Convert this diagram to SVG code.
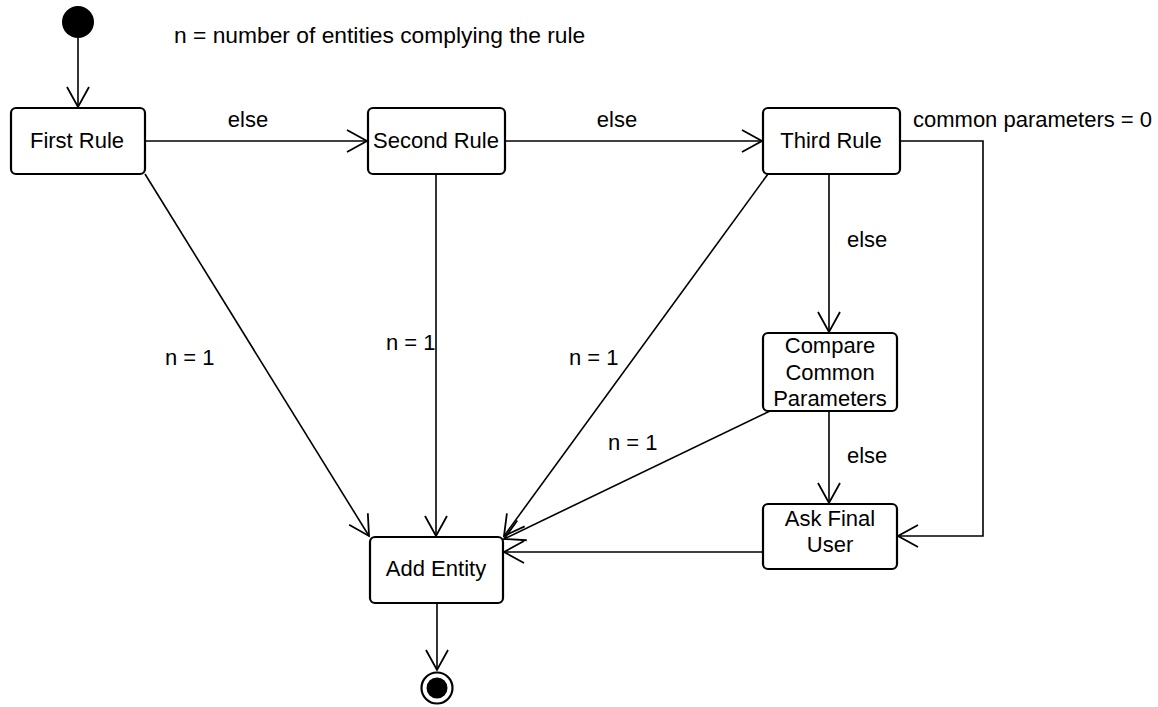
<svg xmlns="http://www.w3.org/2000/svg" width="1158" height="707" viewBox="0 0 1158 707">
<style>
.box{fill:#fff;stroke:#000;stroke-width:2.2}
.c{fill:none;stroke:#000;stroke-width:1.6}
text{font-family:"Liberation Sans",Arial,sans-serif;font-size:22px;fill:#000}
.m{text-anchor:middle}
</style>
<defs>
<marker id="arr" markerUnits="userSpaceOnUse" markerWidth="24" markerHeight="24" refX="20" refY="11" orient="auto" overflow="visible">
<path d="M0,0 L20,11 L0,22" fill="none" stroke="#000" stroke-width="1.8"/>
</marker>
</defs>
<rect width="1158" height="707" fill="#fff"/>
<text x="174" y="43" style="font-size:22.8px">n = number of entities complying the rule</text>
<g id="connectors">
<line class="c" x1="78" y1="38" x2="78" y2="107" marker-end="url(#arr)"/>
<line class="c" x1="145" y1="141" x2="367" y2="141" marker-end="url(#arr)"/>
<line class="c" x1="505" y1="141" x2="762" y2="141" marker-end="url(#arr)"/>
<polyline class="c" points="900,141 983,141 983,536 898,536" marker-end="url(#arr)"/>
<line class="c" x1="829" y1="174" x2="829" y2="332" marker-end="url(#arr)"/>
<line class="c" x1="829" y1="411" x2="829" y2="503" marker-end="url(#arr)"/>
<line class="c" x1="145" y1="174" x2="369" y2="536" marker-end="url(#arr)"/>
<line class="c" x1="436" y1="174" x2="436" y2="536" marker-end="url(#arr)"/>
<line class="c" x1="768" y1="174" x2="504" y2="536" marker-end="url(#arr)"/>
<line class="c" x1="770" y1="411" x2="504" y2="539" marker-end="url(#arr)"/>
<line class="c" x1="763" y1="552" x2="504" y2="552" marker-end="url(#arr)"/>
<line class="c" x1="437" y1="603" x2="437" y2="670" marker-end="url(#arr)"/>
<text class="m" x="248" y="127">else</text>
<text class="m" x="617" y="127">else</text>
<text x="913" y="127">common parameters = 0</text>
<text x="847" y="247">else</text>
<text x="847" y="463">else</text>
<text x="165" y="365">n = 1</text>
<text x="386" y="350">n = 1</text>
<text x="569" y="365">n = 1</text>
<text x="608" y="450">n = 1</text>
</g>
<g id="start"><circle cx="78" cy="22" r="16" fill="#000"/></g>
<g id="first"><rect class="box" x="11" y="108" width="134" height="66" rx="5"/><text class="m" x="77" y="148">First Rule</text></g>
<g id="second"><rect class="box" x="368" y="108" width="137" height="66" rx="5"/><text class="m" x="436" y="148">Second Rule</text></g>
<g id="third"><rect class="box" x="763" y="108" width="137" height="66" rx="5"/><text class="m" x="831" y="148">Third Rule</text></g>
<g id="compare"><rect class="box" x="763" y="333" width="134" height="78" rx="5"/><text class="m" x="830" y="353">Compare</text><text class="m" x="830" y="380">Common</text><text class="m" x="830" y="406">Parameters</text></g>
<g id="ask"><rect class="box" x="763" y="504" width="134" height="65" rx="5"/><text class="m" x="830" y="526">Ask Final</text><text class="m" x="830" y="552">User</text></g>
<g id="add"><rect class="box" x="370" y="537" width="133" height="66" rx="5"/><text class="m" x="436" y="576">Add Entity</text></g>
<g id="end"><circle cx="437" cy="688" r="15.5" fill="#fff" stroke="#000" stroke-width="2.2"/><circle cx="437" cy="688" r="10.5" fill="#000"/></g>
</svg>
